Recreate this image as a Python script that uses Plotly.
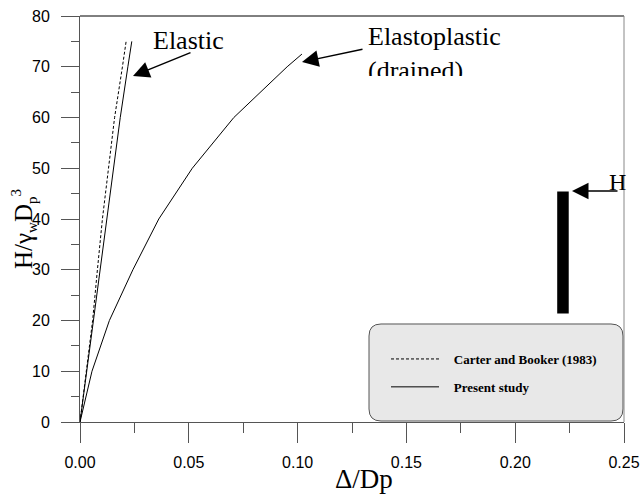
import plotly.graph_objects as go

# ---- data ----
load = [0, 10, 20, 30, 40, 50, 60, 70, 75]
carter_booker_disp = [0, 0.0028, 0.0058, 0.0080, 0.0103, 0.0131, 0.0159, 0.0195, 0.0212]
present_elastic_disp = [0, 0.0031, 0.0062, 0.0092, 0.0122, 0.0153, 0.0185, 0.0220, 0.0238]

load_ep = [0, 10, 20, 30, 40, 50, 60, 70, 72.5]
present_elastoplastic_disp = [0, 0.0055, 0.0135, 0.0243, 0.0362, 0.0516, 0.0707, 0.0952, 0.102]

x_range = [0, 0.25]
y_range = [0, 80]

W, H = 640, 494
ML, MR, MT, MB = 80, 16, 16, 72
PW, PH = W - ML - MR, H - MT - MB


def px(xp):
    return (xp - ML) / PW


def py(yp):
    return (H - MB - yp) / PH


SERIF = "Times New Roman, Liberation Serif, serif"
SANS = "Arial, Liberation Sans, sans-serif"
AX = "#555555"
NB = "\u00a0"

fig = go.Figure()
fig.add_trace(go.Scatter(x=carter_booker_disp, y=load, mode="lines",
                         line=dict(color="black", width=1, dash="3px,2px"),
                         name=NB * 3 + "Carter and Booker (1983)", legendgroup="a"))
fig.add_trace(go.Scatter(x=present_elastic_disp, y=load, mode="lines",
                         line=dict(color="black", width=1),
                         name=NB * 3 + "Present study", legendgroup="b"))
fig.add_trace(go.Scatter(x=present_elastoplastic_disp, y=load_ep, mode="lines",
                         line=dict(color="black", width=1),
                         name="Present study", legendgroup="b", showlegend=False))

# rounded legend box
x0, x1, y0, y1, r = 369, 623, 324, 421, 12
pts = [
    ("M", [(x0 + r, y0)]), ("L", [(x1 - r, y0)]), ("Q", [(x1, y0), (x1, y0 + r)]),
    ("L", [(x1, y1 - r)]), ("Q", [(x1, y1), (x1 - r, y1)]), ("L", [(x0 + r, y1)]),
    ("Q", [(x0, y1), (x0, y1 - r)]), ("L", [(x0, y0 + r)]), ("Q", [(x0, y0), (x0 + r, y0)]),
]
path = " ".join(c + " " + " ".join(f"{px(a):.5f},{py(b):.5f}" for a, b in p) for c, p in pts) + " Z"

shapes = [
    dict(type="path", xref="paper", yref="paper", path=path,
         fillcolor="#e8e8e8", line=dict(color=AX, width=1), layer="below"),
    dict(type="line", xref="paper", yref="paper", x0=0, x1=1, y0=1, y1=1,
         line=dict(color="black", width=1)),
    dict(type="line", xref="paper", yref="paper", x0=1, x1=1, y0=0, y1=1,
         line=dict(color="#888888", width=1)),
    dict(type="rect", xref="x", yref="y", x0=0.2193, x1=0.2246, y0=21.4, y1=45.4,
         fillcolor="black", line=dict(width=0)),
]

annotations = [
    dict(text="Elastic", xref="paper", yref="paper", x=px(151), y=py(40),
         xanchor="left", yanchor="middle", showarrow=False,
         font=dict(family=SERIF, size=26, color="black")),
    dict(text="Elastoplastic<br>(drained)", xref="paper", yref="paper", x=px(366), y=py(20),
         xanchor="left", yanchor="top", valign="top", align="left", height=54, showarrow=False,
         font=dict(family=SERIF, size=26, color="black")),
    dict(text="H", xref="paper", yref="paper", x=px(607), y=py(182),
         xanchor="left", yanchor="middle", showarrow=False,
         font=dict(family=SERIF, size=24, color="black")),
    # arrows
    dict(text="", xref="paper", yref="paper", x=px(133), y=py(76), ax=59, ay=-24,
         showarrow=True, arrowhead=2, arrowsize=2.2, arrowwidth=1.5, arrowcolor="black"),
    dict(text="", xref="paper", yref="paper", x=px(302), y=py(62), ax=62, ay=-13,
         showarrow=True, arrowhead=2, arrowsize=2.2, arrowwidth=1.5, arrowcolor="black"),
    dict(text="", xref="paper", yref="paper", x=px(572), y=py(191), ax=47, ay=0,
         showarrow=True, arrowhead=2, arrowsize=2.2, arrowwidth=1.5, arrowcolor="black"),
    # axis titles
    dict(text="H/γ<sub><span style='font-size:15px'>w</span></sub>D"
              "<sub><span style='font-size:15px'>p</span></sub>"
              "<sup><span style='font-size:15px'>3</span></sup>",
         xref="paper", yref="paper",
         x=px(24), y=py(229), xanchor="center", yanchor="middle", textangle=-90,
         showarrow=False, font=dict(family=SERIF, size=25, color="black")),
    dict(text="Δ/Dp", xref="paper", yref="paper", x=px(364), y=py(479),
         xanchor="center", yanchor="middle", showarrow=False,
         font=dict(family=SERIF, size=27, color="black")),
]

fig.update_layout(
    width=W, height=H, margin=dict(l=ML, r=MR, t=MT, b=MB, autoexpand=False),
    paper_bgcolor="white", plot_bgcolor="white",
    shapes=shapes, annotations=annotations,
    showlegend=True,
    legend=dict(x=px(386), y=py(344), xanchor="left", yanchor="top",
                bgcolor="rgba(0,0,0,0)", borderwidth=0, itemwidth=48,
                tracegroupgap=8, traceorder="grouped",
                font=dict(family=SERIF, size=13, color="black", weight="bold")),
    xaxis=dict(range=x_range, dtick=0.05, tick0=0, tickformat=".2f", automargin=False,
               showline=True, linecolor=AX, linewidth=1, showgrid=False, zeroline=False,
               ticks="outside", ticklen=20, tickcolor=AX, tickwidth=1,
               minor=dict(ticks="outside", ticklen=10, dtick=0.025, tickcolor=AX, tickwidth=1),
               tickfont=dict(family=SANS, size=16, color="black"), ticklabelstandoff=6),
    yaxis=dict(range=y_range, dtick=10, tick0=0, automargin=False,
               showline=True, linecolor=AX, linewidth=1, showgrid=False, zeroline=False,
               ticks="outside", ticklen=18, tickcolor=AX, tickwidth=1,
               minor=dict(ticks="outside", ticklen=8, dtick=5, tickcolor=AX, tickwidth=1),
               tickfont=dict(family=SANS, size=16, color="black"), ticklabelstandoff=8),
)

fig.write_html("out.html")
